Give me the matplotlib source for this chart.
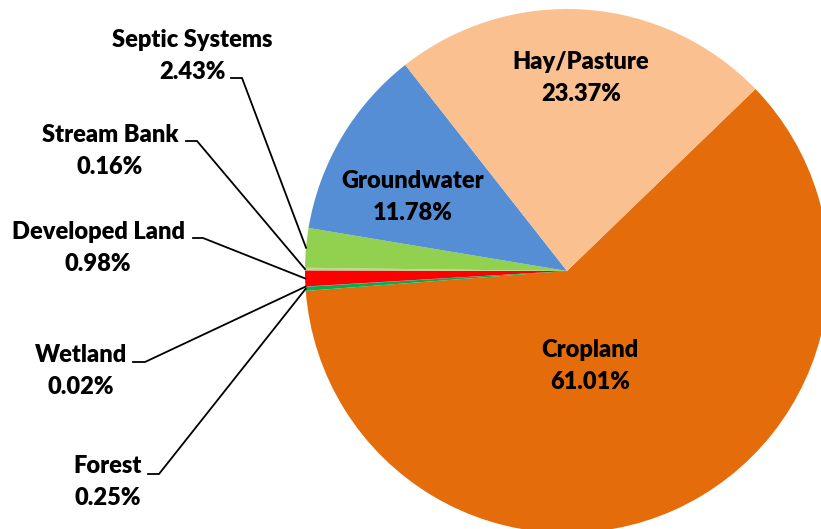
import numpy as np
import matplotlib
matplotlib.use("agg")
from matplotlib import pyplot as plt

# data, in the order the slices are drawn (clockwise from the cropland edge)
categories = ["Cropland", "Forest", "Wetland", "Developed Land", "Stream Bank",
              "Septic Systems", "Groundwater", "Hay/Pasture"]
shares = [61.01, 0.25, 0.02, 0.98, 0.16, 2.43, 11.78, 23.37]
colors = ["#E46C0A", "#00B050", "#4F81BD", "#FF0000", "#B5DC8E",
          "#92D050", "#558ED5", "#FAC090"]

W, H = 821, 529
cx, cy, R = 567, 271, 262   # pie centre / radius in pixels (y down)

# label layout (pixel coords, y down): text centre, elbow start, elbow end
inside = {"Cropland": (590, 366), "Groundwater": (413, 197), "Hay/Pasture": (581, 78)}
outside = {
    "Septic Systems": ((192, 56), (231, 78), (242, 78)),
    "Stream Bank": ((110, 151), (186, 141), (197, 141)),
    "Developed Land": ((98, 248), (193, 238), (203, 238)),
    "Wetland": ((81, 371), (133, 362), (145, 362)),
    "Forest": ((108, 482), (148, 474), (159, 474)),
}

fig = plt.figure(figsize=(W / 100, H / 100), dpi=100)
ax = fig.add_axes([0, 0, 1, 1])

wedges, _ = ax.pie(shares, colors=colors, startangle=44, counterclock=False,
                   center=(cx, H - cy), radius=R,
                   wedgeprops=dict(linewidth=0))
ax.set_xlim(0, W)
ax.set_ylim(0, H)
ax.set_aspect("equal")
ax.axis("off")

font = dict(family=["Lato", "DejaVu Sans"], fontweight="heavy", fontsize=17,
            ha="center", va="center", linespacing=1.55)

for w, name, val in zip(wedges, categories, shares):
    txt = "%s\n%.2f%%" % (name, val)
    if name in inside:
        x, y = inside[name]
        ax.text(x, H - y, txt, **font)
    else:
        (tx, ty), (x0, y0), (x1, y1) = outside[name]
        ax.text(tx, H - ty, txt, **font)
        mid = np.deg2rad((w.theta1 + w.theta2) / 2)
        ex = cx + R * np.cos(mid)
        ey = (H - cy) + R * np.sin(mid)
        ax.plot([x0, x1, ex], [H - y0, H - y1, ey], color="black", lw=1.3,
                solid_joinstyle="miter")

fig.savefig("out.png", dpi=100, facecolor="white")
